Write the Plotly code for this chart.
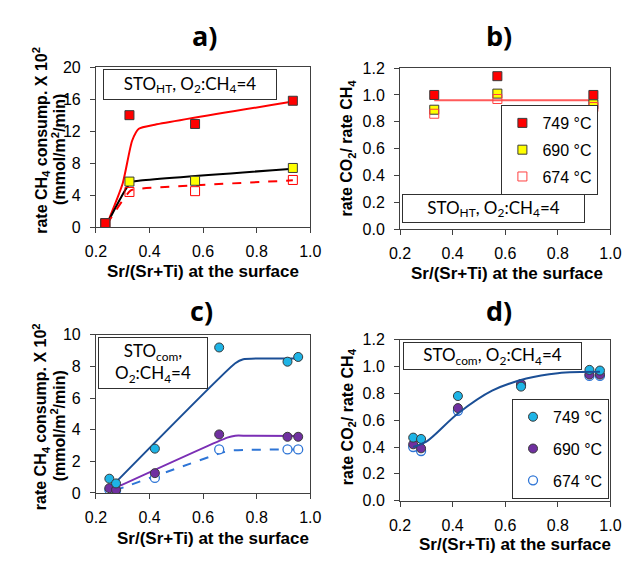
import plotly.graph_objects as go

W, H = 635, 563

# ---------------- data ----------------
# Panel a (STO_HT, CH4 consumption rate x 10^2)
a_x = [0.235, 0.325, 0.57, 0.935]
a_749 = [0.5, 14.0, 12.9, 15.8]
a_690 = [0.5, 5.7, 5.8, 7.4]
a_674 = [0.5, 4.4, 4.5, 5.9]
a_fit749_x = [0.24, 0.30, 0.335, 0.36, 0.42, 0.935]
a_fit749_y = [0.3, 5.5, 10.8, 12.3, 12.8, 15.7]
a_fit690_x = [0.24, 0.33, 0.36, 0.935]
a_fit690_y = [0.3, 5.6, 5.8, 7.3]
a_fit674_x = [0.24, 0.33, 0.36, 0.935]
a_fit674_y = [0.3, 4.6, 4.8, 5.85]

# Panel b (STO_HT, rate CO2 / rate CH4)
b_x = [0.33, 0.57, 0.935]
b_749 = [1.00, 1.14, 1.00]
b_690 = [0.89, 1.01, 0.93]
b_674 = [0.86, 0.97, 0.91]
b_fit_x = [0.33, 0.935]
b_fit_y = [0.96, 0.96]

# Panel c (STO_com, CH4 consumption rate x 10^2)
c_x = [0.25, 0.275, 0.42, 0.66, 0.915, 0.955]
c_749 = [0.9, 0.6, 2.8, 9.2, 8.3, 8.6]
c_690 = [0.3, 0.2, 1.25, 3.7, 3.55, 3.55]
c_674 = [0.2, 0.15, 0.95, 2.75, 2.75, 2.75]
c_fit749_x = [0.27, 0.72, 0.75, 0.80, 0.955]
c_fit749_y = [0.6, 8.2, 8.45, 8.5, 8.5]
c_fit690_x = [0.27, 0.69, 0.72, 0.76, 0.955]
c_fit690_y = [0.3, 3.5, 3.62, 3.62, 3.6]
c_fit674_x = [0.27, 0.67, 0.70, 0.75, 0.955]
c_fit674_y = [0.15, 2.55, 2.68, 2.72, 2.75]

# Panel d (STO_com, rate CO2 / rate CH4)
d_x = [0.25, 0.28, 0.42, 0.66, 0.92, 0.96]
d_749 = [0.47, 0.46, 0.78, 0.85, 0.975, 0.97]
d_690 = [0.42, 0.39, 0.69, 0.87, 0.94, 0.94]
d_674 = [0.40, 0.37, 0.67, 0.86, 0.93, 0.93]
d_fit_x = [0.25, 0.30, 0.42, 0.55, 0.68, 0.80, 0.96]
d_fit_y = [0.40, 0.44, 0.65, 0.82, 0.91, 0.95, 0.96]

legend_labels = ["749 °C", "690 °C", "674 °C"]

# ---------------- styling ----------------
FONT = "Liberation Sans"
RED = "#FF0000"
YEL = "#FFFF00"
CYAN = "#1EB4E6"
PURP = "#7030A0"
OBLUE = "#2E75D6"
DBLUE = "#1B4F96"
EDGE = "#3a3a3a"


def px_x(p):
    return p / W


def px_y(p):
    return 1 - p / H


fig = go.Figure()

axes = {
    "a": dict(x="x", y="y", xd=[88, 310], yd=[61, 226], yr=[0, 20], dt=4, fmt="d"),
    "b": dict(x="x2", y="y2", xd=[403, 621], yd=[62, 228], yr=[0, 1.2], dt=0.2, fmt=".1f"),
    "c": dict(x="x3", y="y3", xd=[88, 310], yd=[337, 500], yr=[0, 10], dt=2, fmt="d"),
    "d": dict(x="x4", y="y4", xd=[403, 621], yd=[342, 508], yr=[0, 1.2], dt=0.2, fmt=".1f"),
}


def sq(color, line_color, fill=True):
    return dict(symbol="square" if fill else "square-open", size=9,
                color=color if fill else line_color,
                line=dict(color=line_color, width=1))


def circ(color, line_color, fill=True):
    if fill:
        return dict(symbol="circle", size=9, color=color, line=dict(color=line_color, width=1))
    return dict(symbol="circle", size=9, color="white", line=dict(color=line_color, width=1.3))


# ---- panel a ----
A = axes["a"]
fig.add_trace(go.Scatter(x=a_fit749_x, y=a_fit749_y, mode="lines", line=dict(color=RED, width=2, shape="spline", smoothing=0.6),
                         xaxis=A["x"], yaxis=A["y"], showlegend=False, hoverinfo="skip"))
fig.add_trace(go.Scatter(x=a_fit690_x, y=a_fit690_y, mode="lines", line=dict(color="black", width=2, shape="spline", smoothing=0.6),
                         xaxis=A["x"], yaxis=A["y"], showlegend=False, hoverinfo="skip"))
fig.add_trace(go.Scatter(x=a_fit674_x, y=a_fit674_y, mode="lines", line=dict(color=RED, width=2, dash="dash", shape="spline", smoothing=0.6),
                         xaxis=A["x"], yaxis=A["y"], showlegend=False, hoverinfo="skip"))
fig.add_trace(go.Scatter(x=a_x, y=a_674, mode="markers", marker=sq(None, RED, False), xaxis=A["x"], yaxis=A["y"], showlegend=False))
fig.add_trace(go.Scatter(x=a_x, y=a_690, mode="markers", marker=sq(YEL, EDGE), xaxis=A["x"], yaxis=A["y"], showlegend=False))
fig.add_trace(go.Scatter(x=a_x, y=a_749, mode="markers", marker=sq(RED, EDGE), xaxis=A["x"], yaxis=A["y"], showlegend=False))

# ---- panel b ----
B = axes["b"]
fig.add_trace(go.Scatter(x=b_fit_x, y=b_fit_y, mode="lines", line=dict(color="#FF5A5A", width=2),
                         xaxis=B["x"], yaxis=B["y"], showlegend=False, hoverinfo="skip"))
fig.add_trace(go.Scatter(x=b_x, y=b_749, mode="markers", marker=sq(RED, EDGE), name=legend_labels[0],
                         xaxis=B["x"], yaxis=B["y"], legend="legend", legendgroup="b1", legendrank=1))
fig.add_trace(go.Scatter(x=b_x, y=b_690, mode="markers", marker=sq(YEL, EDGE), name=legend_labels[1],
                         xaxis=B["x"], yaxis=B["y"], legend="legend", legendgroup="b2", legendrank=2))
fig.add_trace(go.Scatter(x=b_x, y=b_674, mode="markers", marker=sq(None, "#FF4040", False), name=legend_labels[2],
                         xaxis=B["x"], yaxis=B["y"], legend="legend", legendgroup="b3", legendrank=3))

# ---- panel c ----
C = axes["c"]
fig.add_trace(go.Scatter(x=c_fit749_x, y=c_fit749_y, mode="lines", line=dict(color=DBLUE, width=2, shape="spline", smoothing=0.5),
                         xaxis=C["x"], yaxis=C["y"], showlegend=False, hoverinfo="skip"))
fig.add_trace(go.Scatter(x=c_fit690_x, y=c_fit690_y, mode="lines", line=dict(color="#7B2FB5", width=2, shape="spline", smoothing=0.5),
                         xaxis=C["x"], yaxis=C["y"], showlegend=False, hoverinfo="skip"))
fig.add_trace(go.Scatter(x=c_fit674_x, y=c_fit674_y, mode="lines", line=dict(color=OBLUE, width=2, dash="dash", shape="spline", smoothing=0.5),
                         xaxis=C["x"], yaxis=C["y"], showlegend=False, hoverinfo="skip"))
fig.add_trace(go.Scatter(x=c_x, y=c_674, mode="markers", marker=circ(None, OBLUE, False), xaxis=C["x"], yaxis=C["y"], showlegend=False))
fig.add_trace(go.Scatter(x=c_x, y=c_690, mode="markers", marker=circ(PURP, EDGE), xaxis=C["x"], yaxis=C["y"], showlegend=False))
fig.add_trace(go.Scatter(x=c_x, y=c_749, mode="markers", marker=circ(CYAN, EDGE), xaxis=C["x"], yaxis=C["y"], showlegend=False))

# ---- panel d ----
D = axes["d"]
fig.add_trace(go.Scatter(x=d_x, y=d_674, mode="markers", marker=circ(None, OBLUE, False), name=legend_labels[2],
                         xaxis=D["x"], yaxis=D["y"], legend="legend2", legendgroup="d3", legendrank=3))
fig.add_trace(go.Scatter(x=d_x, y=d_690, mode="markers", marker=circ(PURP, EDGE), name=legend_labels[1],
                         xaxis=D["x"], yaxis=D["y"], legend="legend2", legendgroup="d2", legendrank=2))
fig.add_trace(go.Scatter(x=d_x, y=d_749, mode="markers", marker=circ(CYAN, EDGE), name=legend_labels[0],
                         xaxis=D["x"], yaxis=D["y"], legend="legend2", legendgroup="d1", legendrank=1))
fig.add_trace(go.Scatter(x=d_fit_x, y=d_fit_y, mode="lines", line=dict(color=DBLUE, width=2, shape="spline", smoothing=1),
                         xaxis=D["x"], yaxis=D["y"], showlegend=False, hoverinfo="skip"))

TICKF = dict(family=FONT, size=16, color="black")

layout = dict(
    width=W, height=H, margin=dict(l=0, r=0, t=0, b=0),
    paper_bgcolor="white", plot_bgcolor="white",
    font=dict(family=FONT, size=16, color="black"),
)

for key, ax in axes.items():
    xn = "xaxis" + ax["x"][1:]
    yn = "yaxis" + ax["y"][1:]
    layout[xn] = dict(domain=[px_x(ax["xd"][0]), px_x(ax["xd"][1])], anchor=ax["y"], range=[0.2, 1.0],
                      dtick=0.2, tick0=0.2, tickformat=".1f", showgrid=False, zeroline=False,
                      showline=True, mirror=True, linecolor="#404040", linewidth=1,
                      ticks="outside", ticklen=5, tickcolor="#404040", ticklabelstandoff=5,
                      tickfont=TICKF)
    layout[yn] = dict(domain=[px_y(ax["yd"][1]), px_y(ax["yd"][0])], anchor=ax["x"], range=ax["yr"],
                      dtick=ax["dt"], tick0=0, tickformat=ax["fmt"], showgrid=False, zeroline=False,
                      showline=True, mirror=True, linecolor="#404040", linewidth=1,
                      ticks="outside", ticklen=5, tickcolor="#404040", ticklabelstandoff=6,
                      tickfont=TICKF)

LEGF = dict(family=FONT, size=16, color="black")
layout["legend"] = dict(x=px_x(508), y=px_y(100), xanchor="left", yanchor="top",
                        bordercolor="#303030", borderwidth=1, bgcolor="white",
                        font=LEGF, tracegroupgap=3, itemwidth=30)
layout["legend2"] = dict(x=px_x(519), y=px_y(403), xanchor="left", yanchor="top",
                         bordercolor="#303030", borderwidth=1, bgcolor="white",
                         font=LEGF, tracegroupgap=8, itemwidth=30)

fig.update_layout(**layout)

ann = []
# panel titles
for txt, cx, cy in [("a)", 200, 28), ("b)", 505, 28), ("c)", 197, 312), ("d)", 505, 312)]:
    ann.append(dict(text="<b>" + txt + "</b>", x=px_x(cx), y=px_y(cy), xref="paper", yref="paper",
                    showarrow=False, font=dict(family="Open Sans", size=27, color="black"),
                    xanchor="center", yanchor="middle"))

# x-axis titles
for cx, cy in [(199, 272), (514, 274), (209, 547), (522, 553)]:
    ann.append(dict(text="<b>Sr/(Sr+Ti) at the surface</b>", x=px_x(cx), y=px_y(cy), xref="paper", yref="paper",
                    showarrow=False, font=dict(family=FONT, size=17, color="black"),
                    xanchor="center", yanchor="middle", borderpad=0))

# y-axis titles (each line placed separately)
ytitle_rate_1 = "<b>rate CH<sub>4</sub> consump. X 10<sup>2</sup></b>"
ytitle_rate_2 = "<b>(mmol/m<sup>2</sup>/min)</b>"
ytitle_ratio = "<b>rate CO<sub>2</sub>/ rate CH<sub>4</sub></b>"
ylines = [
    (ytitle_rate_1, 31, 136), (ytitle_rate_2, 49, 146),
    (ytitle_ratio, 349, 144),
    (ytitle_rate_1, 31, 421), (ytitle_rate_2, 49, 431),
    (ytitle_ratio, 349, 421),
]
for txt, cx, cy in ylines:
    ann.append(dict(text=txt, x=px_x(cx), y=px_y(cy), xref="paper", yref="paper", textangle=-90,
                    showarrow=False, font=dict(family=FONT, size=16, color="black"),
                    xanchor="center", yanchor="middle", borderpad=0))

# condition boxes
boxes = [
    ("STO<sub>HT</sub>, O<sub>2</sub>:CH<sub>4</sub>=4", 185, 78.5, 172, 29),
    ("STO<sub>HT</sub>, O<sub>2</sub>:CH<sub>4</sub>=4", 499.5, 206.5, 181, 27),
    ("STO<sub>com</sub>,<br>O<sub>2</sub>:CH<sub>4</sub>=4", 147, 366, 108, 50),
    ("STO<sub>com</sub>, O<sub>2</sub>:CH<sub>4</sub>=4", 498.5, 359, 177, 26),
]
for txt, cx, cy, w, h in boxes:
    ann.append(dict(text=txt, x=px_x(cx), y=px_y(cy), xref="paper", yref="paper", showarrow=False,
                    font=dict(family="Lato", size=17, color="black"), width=w, height=h,
                    bordercolor="#303030", borderwidth=1, borderpad=0, bgcolor="white",
                    xanchor="center", yanchor="middle", align="center", valign="middle"))

fig.update_layout(annotations=ann)

fig.write_html("out.html")
